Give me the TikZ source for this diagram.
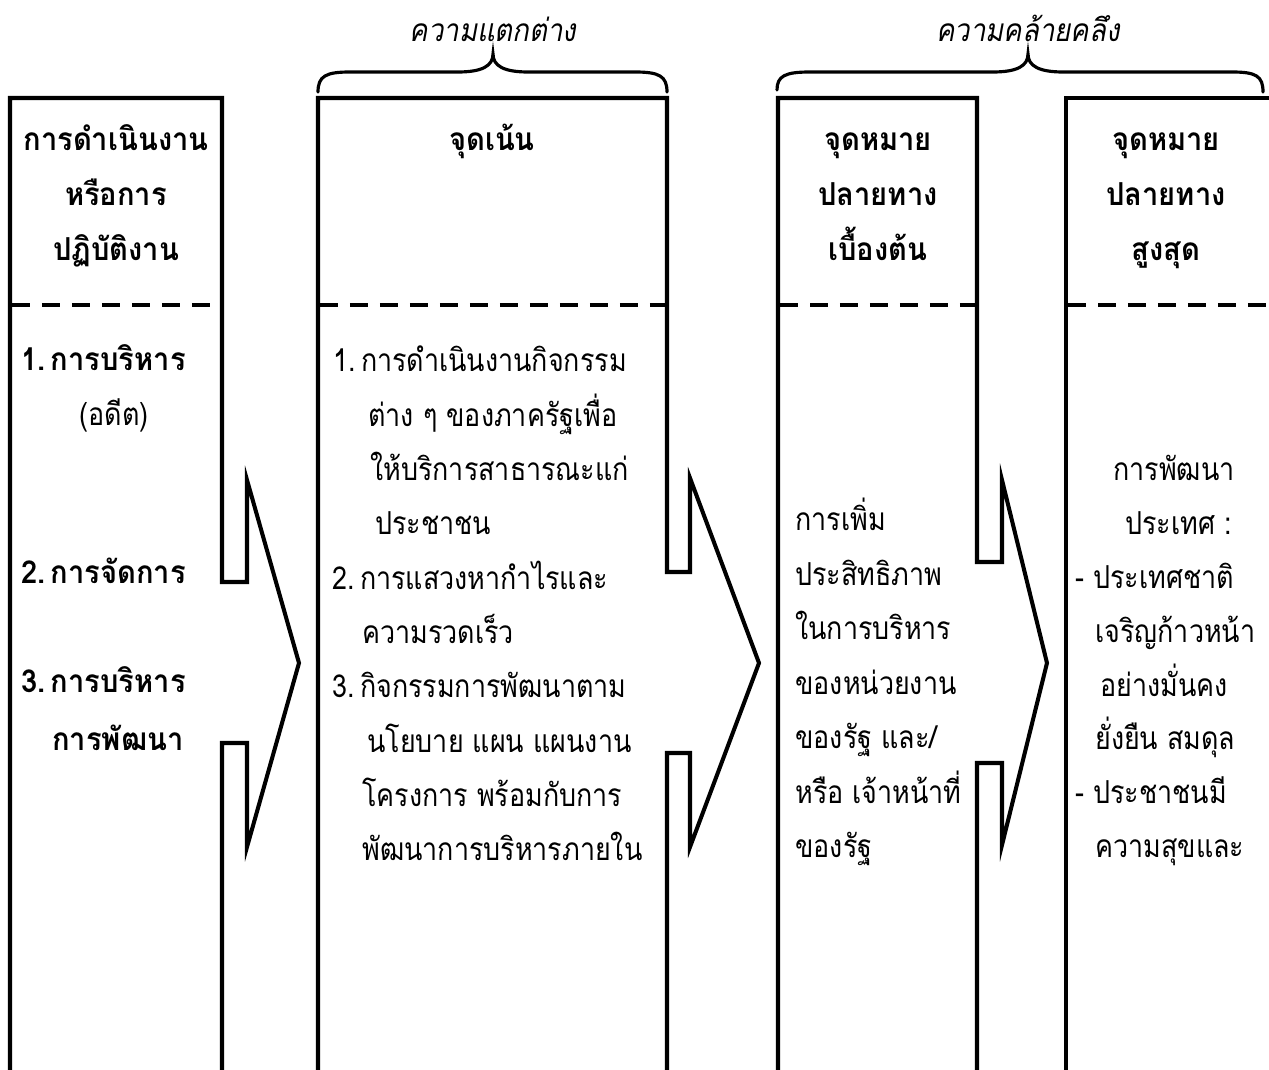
\documentclass[tikz,border=0pt]{standalone}
\usepackage{fontspec}
\usepackage{tikz}
\usetikzlibrary{positioning, calc}
\newfontfamily\thaifont[Script=Thai,
    UprightFeatures={FakeStretch=0.85},
    BoldFeatures={FakeStretch=0.92},
    ItalicFeatures={FakeStretch=0.87}]{Loma}

\tikzset{
  colline/.style={line width=2.3pt, line join=miter},
  sepline/.style={line width=2.8pt, dash pattern=on 0.36cm off 0.24cm},
  bracket/.style={line width=1.8pt, line cap=round},
  headtxt/.style={font=\thaifont\bfseries\fontsize{18}{20}\selectfont, anchor=base, inner sep=0pt},
  bodytxt/.style={font=\thaifont\fontsize{18}{20}\selectfont, anchor=base west, inner sep=0pt},
  boldtxt/.style={bodytxt, font=\thaifont\bfseries\fontsize{18}{20}\selectfont},
  bracetxt/.style={font=\thaifont\itshape\fontsize{18}{20}\selectfont, anchor=base, inner sep=0pt}
}

\begin{document}
\begin{tikzpicture}[x=0.02cm, y=-0.02cm]
    \useasboundingbox (0,0) rectangle (1269,1070);
    \clip (0,0) rectangle (1269,1070);

    % columns with their arrows
    \draw[colline] (10,1090) -- (10,98) -- (222,98) -- (222,582) -- (247,582) -- (247,480)
        -- (299,663) -- (247,847) -- (247,743) -- (222,743) -- (222,1090);
    \draw[colline] (318,1090) -- (318,98) -- (667,98) -- (667,572) -- (690,572) -- (690,478)
        -- (759,663) -- (690,847) -- (690,753) -- (667,753) -- (667,1090);
    \draw[colline] (778,1090) -- (778,98) -- (977,98) -- (977,562) -- (1002,562) -- (1002,480)
        -- (1047,663) -- (1002,845) -- (1002,763) -- (977,763) -- (977,1090);
    \draw[colline] (1066,1090) -- (1066,98) -- (1290,98);

    % dashed separators
    \draw[sepline] (12,305) -- (222,305);
    \draw[sepline] (320,305) -- (667,305);
    \draw[sepline] (780,305) -- (977,305);
    \draw[sepline] (1068,305) -- (1290,305);

    % braces
    \draw[bracket] (318,92) .. controls (318,76) and (326,72) .. (350,72) -- (458,72)
        .. controls (482,72) and (493,66) .. (493,54) .. controls (493,66) and (504,72) .. (528,72)
        -- (635,72) .. controls (659,72) and (667,76) .. (667,92);
    \draw[bracket] (777,90) .. controls (777,76) and (785,72) .. (810,72) -- (993,72)
        .. controls (1017,72) and (1028,66) .. (1028,54) .. controls (1028,66) and (1039,72) .. (1063,72)
        -- (1232,72) .. controls (1256,72) and (1263,76) .. (1263,92);
    \node[bracetxt] (diff) at (493,42) {ความแตกต่าง};
    \node[bracetxt] (same) at (1028,42) {ความคล้ายคลึง};

    % headers
    \node[headtxt] (h1a) at (116,151) {การดำเนินงาน};
    \node[headtxt] (h1b) at (116,206) {หรือการ};
    \node[headtxt] (h1c) at (116,261) {ปฏิบัติงาน};
    \node[headtxt] (h2) at (492,151) {จุดเน้น};
    \node[headtxt] (h3a) at (878,151) {จุดหมาย};
    \node[headtxt] (h3b) at (878,206) {ปลายทาง};
    \node[headtxt] (h3c) at (878,261) {เบื้องต้น};
    \node[headtxt] (h4a) at (1166,151) {จุดหมาย};
    \node[headtxt] (h4b) at (1166,206) {ปลายทาง};
    \node[headtxt] (h4c) at (1166,261) {สูงสุด};

    % column 1
    \node[boldtxt] (m1) at (21,371) {1.\,การบริหาร};
    \node[headtxt, font=\thaifont\fontsize{18}{20}\selectfont] (m1b) at (114,426) {(อดีต)};
    \node[boldtxt] (m2) at (21,584) {2.\,การจัดการ};
    \node[boldtxt] (m3) at (21,693) {3.\,การบริหาร};
    \node[boldtxt] (m3b) at (52,751) {การพัฒนา};

    % column 2
    \foreach \xx/\t [count=\i] in {333/{1.\,การดำเนินงานกิจกรรม}, 368/{ต่าง ๆ ของภาครัฐเพื่อ},
        370/{ให้บริการสาธารณะแก่}, 375/{ประชาชน}, 332/{2.\,การแสวงหากำไรและ},
        362/{ความรวดเร็ว}, 332/{3.\,กิจกรรมการพัฒนาตาม}, 367/{นโยบาย แผน แผนงาน},
        362/{โครงการ พร้อมกับการ}, 362/{พัฒนาการบริหารภายใน}}
        \node[bodytxt] (f\i) at (\xx,{372+54.3*(\i-1)}) {\t};

    % column 3
    \foreach \t [count=\i] in {การเพิ่ม, ประสิทธิภาพ, ในการบริหาร, ของหน่วยงาน,
        {ของรัฐ และ/}, {หรือ เจ้าหน้าที่}, ของรัฐ}
        \node[bodytxt] (g\i) at (795,{531+54.5*(\i-1)}) {\t};

    % column 4
    \foreach \xx/\t [count=\i] in {1113/การพัฒนา, 1125/{ประเทศ :}, 1075/{- ประเทศชาติ},
        1095/เจริญก้าวหน้า, 1100/อย่างมั่นคง, 1095/{ยั่งยืน สมดุล}, 1075/{- ประชาชนมี},
        1095/ความสุขและ}
        \node[bodytxt] (t\i) at (\xx,{481+53.8*(\i-1)}) {\t};
\end{tikzpicture}
\end{document}
